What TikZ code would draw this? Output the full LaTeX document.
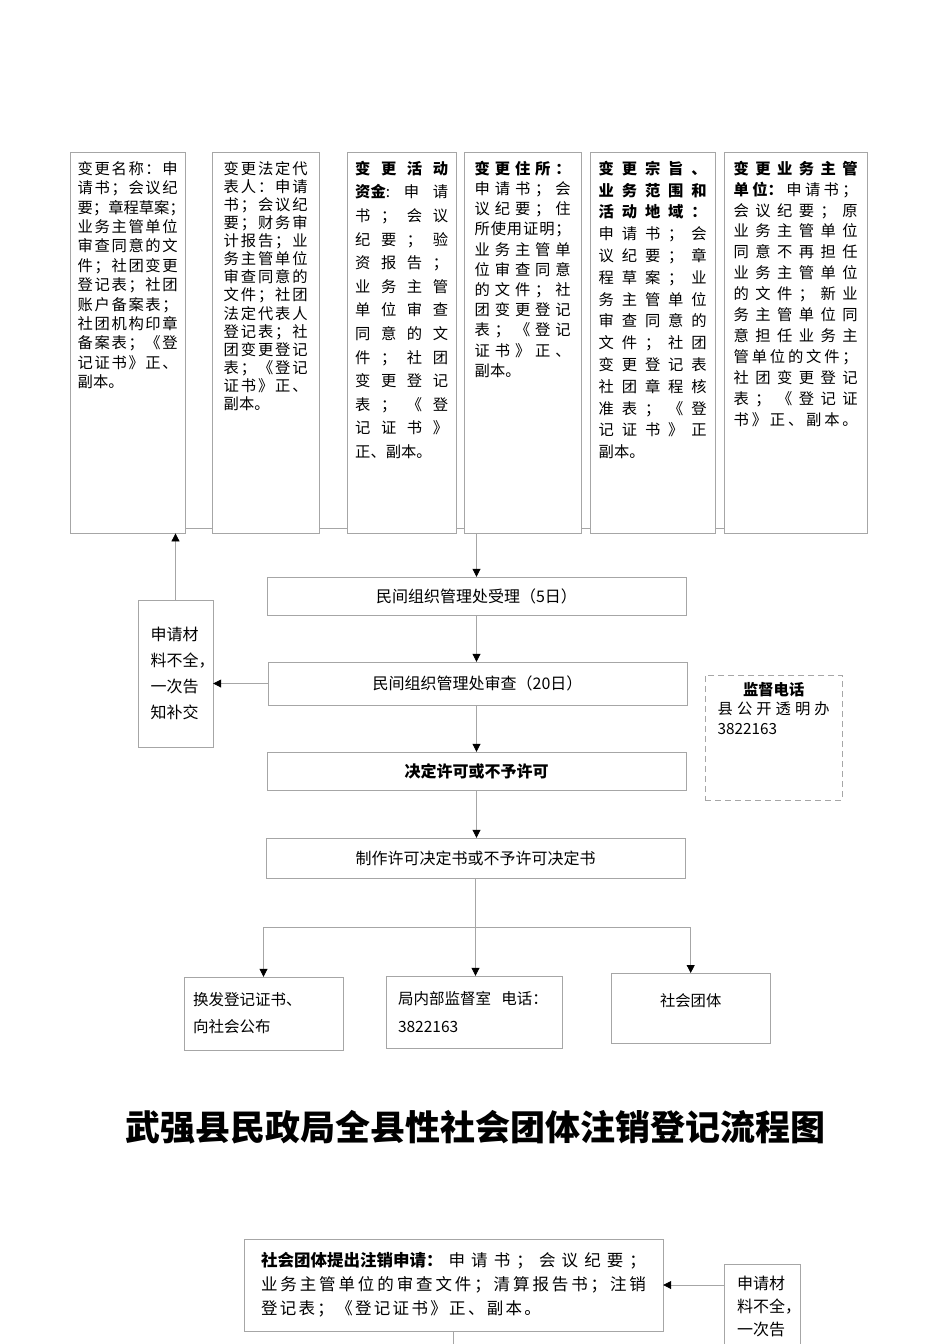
\documentclass[tikz,border=0pt]{standalone}
\usepackage{fontspec}
\setmainfont{Noto Sans CJK SC}
\usetikzlibrary{
    arrows.meta,
    positioning
}
\colorlet{linegray}{black!35}
% spread the characters of one line over the given width
\makeatletter
\newcommand\spr[2][\linewidth]{\leavevmode\hbox to #1{\let\spr@gap\relax
    \@tfor\spr@c:=#2\do{\spr@gap\spr@c\let\spr@gap\hfill}}}
\makeatother

\begin{document}
\begin{tikzpicture}[
    x=1pt, y=-1pt,
    every node/.style={font=\fontsize{15.3}{19.4}\selectfont},
    doc/.style={
        draw=linegray,
        fill=white,
        anchor=north west,
        align=left,
        inner xsep=1pt,
        inner ysep=9pt,
        text height=13pt
    },
    stage/.style={
        draw=linegray,
        fill=white,
        minimum width=419pt,
        align=center,
        font=\fontsize{16}{20}\selectfont
    },
    note/.style={
        draw=linegray,
        fill=white,
        align=left
    },
    link/.style={
        draw=linegray,
        line width=0.8pt
    },
    flow/.style={
        link,
        -{Triangle[length=8pt,width=8pt,color=black]}
    }
]
\useasboundingbox (0,0) rectangle (950,1344);

% change items
\node[doc, minimum width=115pt, text width=100pt, text depth=350pt] (name) at (70,152)
    {\spr{变更名称：申}\\
    \spr{请书；会议纪}\\
    \spr{要；章程草案；}\\
    \spr{业务主管单位}\\
    \spr{审查同意的文}\\
    \spr{件；社团变更}\\
    \spr{登记表；社团}\\
    \spr{账户备案表；}\\
    \spr{社团机构印章}\\
    \spr{备案表；《登}\\
    \spr{记证书》正、}\\
    副本。};

\node[doc, minimum width=107pt, text width=84pt, text depth=350pt,
    font=\fontsize{15.3}{18.1}\selectfont] (rep) at (212,152)
    {\spr{变更法定代}\\
    \spr{表人：申请}\\
    \spr{书；会议纪}\\
    \spr{要；财务审}\\
    \spr{计报告；业}\\
    \spr{务主管单位}\\
    \spr{审查同意的}\\
    \spr{文件；社团}\\
    \spr{法定代表人}\\
    \spr{登记表；社}\\
    \spr{团变更登记}\\
    \spr{表；《登记}\\
    \spr{证书》正、}\\
    副本。};

\node[doc, minimum width=109pt, text width=93pt, text depth=350pt,
    font=\fontsize{15.3}{23.6}\selectfont] (fund) at (347,152)
    {{\bfseries\spr{变更活动}}\\
    \spr{{{\bfseries 资金}:}申请}\\
    \spr{书；会议}\\
    \spr{纪要；验}\\
    \spr{资报告；}\\
    \spr{业务主管}\\
    \spr{单位审查}\\
    \spr{同意的文}\\
    \spr{件；社团}\\
    \spr{变更登记}\\
    \spr{表；《登}\\
    \spr{记证书》}\\
    正、副本。};

\node[doc, minimum width=117pt, text width=96pt, text depth=350pt,
    font=\fontsize{15.3}{20.2}\selectfont] (addr) at (464,152)
    {{\bfseries\spr{变更住所：}}\\
    \spr{申请书；会}\\
    \spr{议纪要；住}\\
    \spr{所使用证明；}\\
    \spr{业务主管单}\\
    \spr{位审查同意}\\
    \spr{的文件；社}\\
    \spr{团变更登记}\\
    \spr{表；《登记}\\
    \spr{证书》正、}\\
    副本。};

\node[doc, minimum width=125pt, text width=108pt, text depth=350pt,
    font=\fontsize{15.3}{21.8}\selectfont] (scope) at (590,152)
    {{\bfseries\spr{变更宗旨、}}\\
    {\bfseries\spr{业务范围和}}\\
    {\bfseries\spr{活动地域：}}\\
    \spr{申请书；会}\\
    \spr{议纪要；章}\\
    \spr{程草案；业}\\
    \spr{务主管单位}\\
    \spr{审查同意的}\\
    \spr{文件；社团}\\
    \spr{变更登记表}\\
    \spr{社团章程核}\\
    \spr{准表；《登}\\
    \spr{记证书》正}\\
    副本。};

\node[doc, minimum width=143pt, text width=124pt, text depth=350pt,
    font=\fontsize{15.3}{20.9}\selectfont] (sponsor) at (724,152)
    {{\bfseries\spr{变更业务主管}}\\
    \spr{{{\bfseries 单}}{{\bfseries 位：}}申请书；}\\
    \spr{会议纪要；原}\\
    \spr{业务主管单位}\\
    \spr{同意不再担任}\\
    \spr{业务主管单位}\\
    \spr{的文件；新业}\\
    \spr{务主管单位同}\\
    \spr{意担任业务主}\\
    \spr{管单位的文件；}\\
    \spr{社团变更登记}\\
    \spr{表；《登记证}\\
    \spr{书》正、副本。}};

\foreach \a/\b in {name/rep, rep/fund, fund/addr, addr/scope, scope/sponsor}
    \draw[link] ([yshift=5pt]\a.south east) -- ([yshift=5pt]\b.south west);

% main flow
\node[stage, minimum height=38pt] (accept) at (476.5,596)
    {民间组织管理处受理（5日）};
\node[stage, minimum height=43pt] (review) at (477.5,683.5)
    {民间组织管理处审查（20日）};
\node[stage, minimum height=38pt, font=\fontsize{16}{20}\selectfont\bfseries] (decide) at (476.5,771)
    {决定许可或不予许可};
\node[stage, minimum height=40pt] (make) at (475.5,858)
    {制作许可决定书或不予许可决定书};

\node[note, minimum width=75pt, minimum height=147pt, text width=50pt,
    font=\fontsize{16}{26}\selectfont] (resubmit) at (175.5,673.5)
    {申请材\\料不全，\\一次告\\知补交};

\node[doc, dash pattern=on 6pt off 4pt, minimum width=137pt, text width=112pt,
    inner ysep=7pt, text depth=98pt, font=\fontsize{15.3}{19.5}\selectfont] (hotline) at (705,675)
    {\hbox to\linewidth{\hfil\bfseries 监督电话\hfil}\\
    \spr{县公开透明办}\\
    3822163};

\draw[flow] (addr.south -| accept.north) -- (accept.north);
\draw[flow] (accept.south) -- (accept.south |- review.north);
\draw[flow] (accept.south |- review.south) -- (accept.south |- decide.north);
\draw[flow] (decide.south) -- (decide.south |- make.north);
\draw[flow] (review.west) -- (review.west -| resubmit.east);
\draw[flow] (resubmit.north) -- (resubmit.north |- name.south);

% results
\node[note, minimum width=159pt, minimum height=73pt, text width=141pt,
    font=\fontsize{15.5}{27}\selectfont] (renew) at (263.5,1013.5)
    {换发登记证书、\\向社会公布};
\node[note, minimum width=176pt, minimum height=72pt, text width=152pt,
    font=\fontsize{15.5}{28}\selectfont] (office) at (474,1012)
    {局内部监督室\ \ 电话：\\3822163};
\node[doc, align=center, minimum width=159pt, text width=140pt,
    inner ysep=20pt, text depth=17pt] (society) at (611,973)
    {社会团体};

\draw[link] (make.south) -- ++(0,49) coordinate (fork);
\draw[flow] (fork) -| (renew.north);
\draw[flow] (fork) -- (fork |- office.north);
\draw[flow] (fork) -| (society.north);

% cancellation
\node[font=\fontsize{35}{40}\selectfont\bfseries] (title) at (475.5,1127)
    {武强县民政局全县性社会团体注销登记流程图};

\node[note, minimum width=419pt, minimum height=92pt, text width=385pt,
    font=\fontsize{16.5}{24}\selectfont] (cancel) at (453.5,1285)
    {\spr{{{\bfseries 社会团体提出注销申请：}}申请书；会议纪要；}\\
    \spr{业务主管单位的审查文件；清算报告书；注销}\\
    \spr[280pt]{登记表；《登记证书》正、副本。}};

\node[doc, minimum width=76pt, text width=50pt, inner ysep=12pt, text depth=130pt,
    font=\fontsize{16}{23}\selectfont] (resubmit2) at (724,1264)
    {申请材\\料不全，\\一次告\\知补交};

\coordinate (pageend) at (458,1350);
\draw[flow] (resubmit2.west |- cancel.east) -- (cancel.east);
\draw[link] (cancel.south) -- (cancel.south |- pageend);

\end{tikzpicture}
\end{document}
